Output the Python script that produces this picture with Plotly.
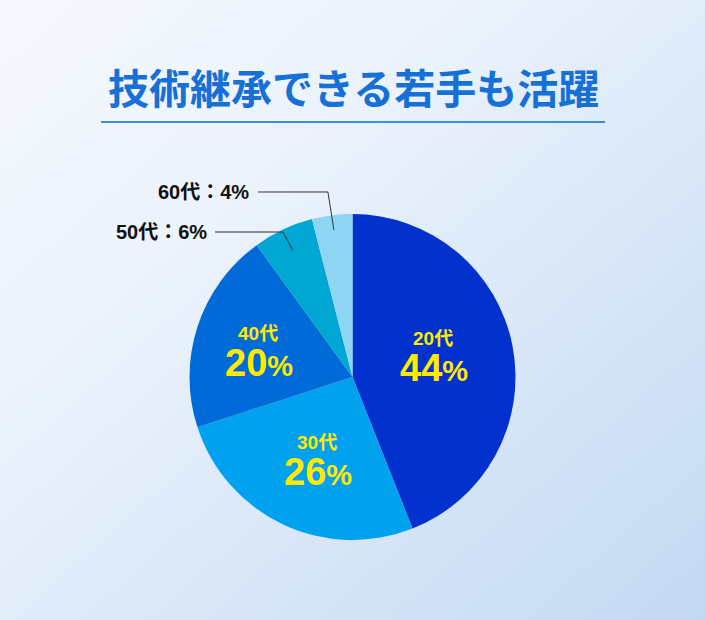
import base64
import math
import plotly.graph_objects as go

# ---------------- data ----------------
categories = ["20代", "30代", "40代", "50代", "60代"]
values = [44, 26, 20, 6, 4]
title_text = "技術継承できる若手も活躍"

# ---------------- style ----------------
W, H = 705, 620
slice_colors = ["#0231CE", "#00A1EF", "#006AD8", "#00A7D3", "#8ED5F4"]
FONT = "Noto Sans CJK JP"
NUMFONT = "Liberation Sans, Noto Sans CJK JP"
YELLOW = "#FFEA00"

# pie geometry (pixels)
CX, CY, R = 352.5, 377.0, 163.0

def px(x):
    return x / W

def py(y):
    return 1 - y / H

fig = go.Figure()
fig.add_trace(go.Pie(
    labels=categories,
    values=values,
    sort=False,
    direction="clockwise",
    rotation=0,
    marker=dict(colors=slice_colors, line=dict(width=0)),
    textinfo="none",
    hoverinfo="skip",
    showlegend=False,
    domain=dict(x=[px(CX - R), px(CX + R)], y=[py(CY + R), py(CY - R)]),
))

# slice mid angles (clockwise from 12 o'clock) computed from data
total = sum(values)
mid_angles = []
acc = 0
for v in values:
    mid_angles.append((acc + v / 2) / total * 2 * math.pi)
    acc += v

def polar(i, rf):
    a = mid_angles[i]
    return CX + R * rf * math.sin(a), CY - R * rf * math.cos(a)

annotations = []
shapes = []

# title
annotations.append(dict(
    x=px(354), y=py(86), xref="paper", yref="paper", showarrow=False,
    text="<b>" + title_text + "</b>",
    font=dict(family=FONT, size=41, color="#1670D6"),
    xanchor="center", yanchor="middle",
))
shapes.append(dict(type="line", xref="paper", yref="paper",
                   x0=px(101), x1=px(605), y0=py(122), y1=py(122),
                   line=dict(color="#3A8FE2", width=2)))

# inside labels (20代, 30代, 40代): x, y of small-label bottom
inside_pos = {0: (433, 350), 1: (317, 454), 2: (258, 345)}
for i, (x, yb) in inside_pos.items():
    annotations.append(dict(
        x=px(x), y=py(yb), xref="paper", yref="paper", showarrow=False,
        text="<b>" + categories[i] + "</b>",
        font=dict(family=NUMFONT, size=19, color=YELLOW),
        xanchor="center", yanchor="bottom", borderpad=0,
    ))
    annotations.append(dict(
        x=px(x + 1), y=py(yb - 4), xref="paper", yref="paper", showarrow=False,
        text="<b>%d<span style='font-size:29px'>%%</span></b>" % values[i],
        font=dict(family=NUMFONT, size=38, color=YELLOW),
        xanchor="center", yanchor="top", borderpad=0,
    ))

# outside labels with leader lines (50代, 60代)
outside = {3: dict(text_right=209, y=232, line_start=215, rf=0.86, elbow_dx=-10),
           4: dict(text_right=251, y=192, line_start=258, rf=0.91, elbow_dx=-6)}
for i, o in outside.items():
    annotations.append(dict(
        x=px(o["text_right"]), y=py(o["y"]), xref="paper", yref="paper",
        showarrow=False,
        text="<b>%s：%d%%</b>" % (categories[i], values[i]),
        font=dict(family=NUMFONT, size=20, color="#111111"),
        xanchor="right", yanchor="middle",
    ))
    sx, sy = polar(i, o["rf"])
    ex = sx + o["elbow_dx"]
    path = "M %f %f L %f %f L %f %f" % (px(o["line_start"]), py(o["y"]),
                                       px(ex), py(o["y"]), px(sx), py(sy))
    shapes.append(dict(type="path", xref="paper", yref="paper", path=path,
                       line=dict(color="#333333", width=1)))

# background gradient
svg = ('<svg xmlns="http://www.w3.org/2000/svg" width="705" height="620">'
       '<defs><linearGradient id="g" x1="0" y1="0" x2="1" y2="1">'
       '<stop offset="0" stop-color="#F6F9FE"/>'
       '<stop offset="0.35" stop-color="#EAF2FC"/>'
       '<stop offset="1" stop-color="#C3D9F2"/>'
       '</linearGradient></defs>'
       '<rect width="705" height="620" fill="url(#g)"/></svg>')
bg_src = "data:image/svg+xml;base64," + base64.b64encode(svg.encode()).decode()

fig.update_layout(
    width=W, height=H,
    margin=dict(l=0, r=0, t=0, b=0),
    paper_bgcolor="#E4EEFA",
    plot_bgcolor="rgba(0,0,0,0)",
    showlegend=False,
    annotations=annotations,
    shapes=shapes,
    images=[dict(source=bg_src, xref="paper", yref="paper", x=0, y=1,
                 sizex=1, sizey=1, sizing="stretch", layer="below",
                 xanchor="left", yanchor="top")],
)

fig.write_html("out.html", config={"displayModeBar": False},
               post_script="document.body.style.margin='0';"
                           "document.body.style.overflow='hidden';")
